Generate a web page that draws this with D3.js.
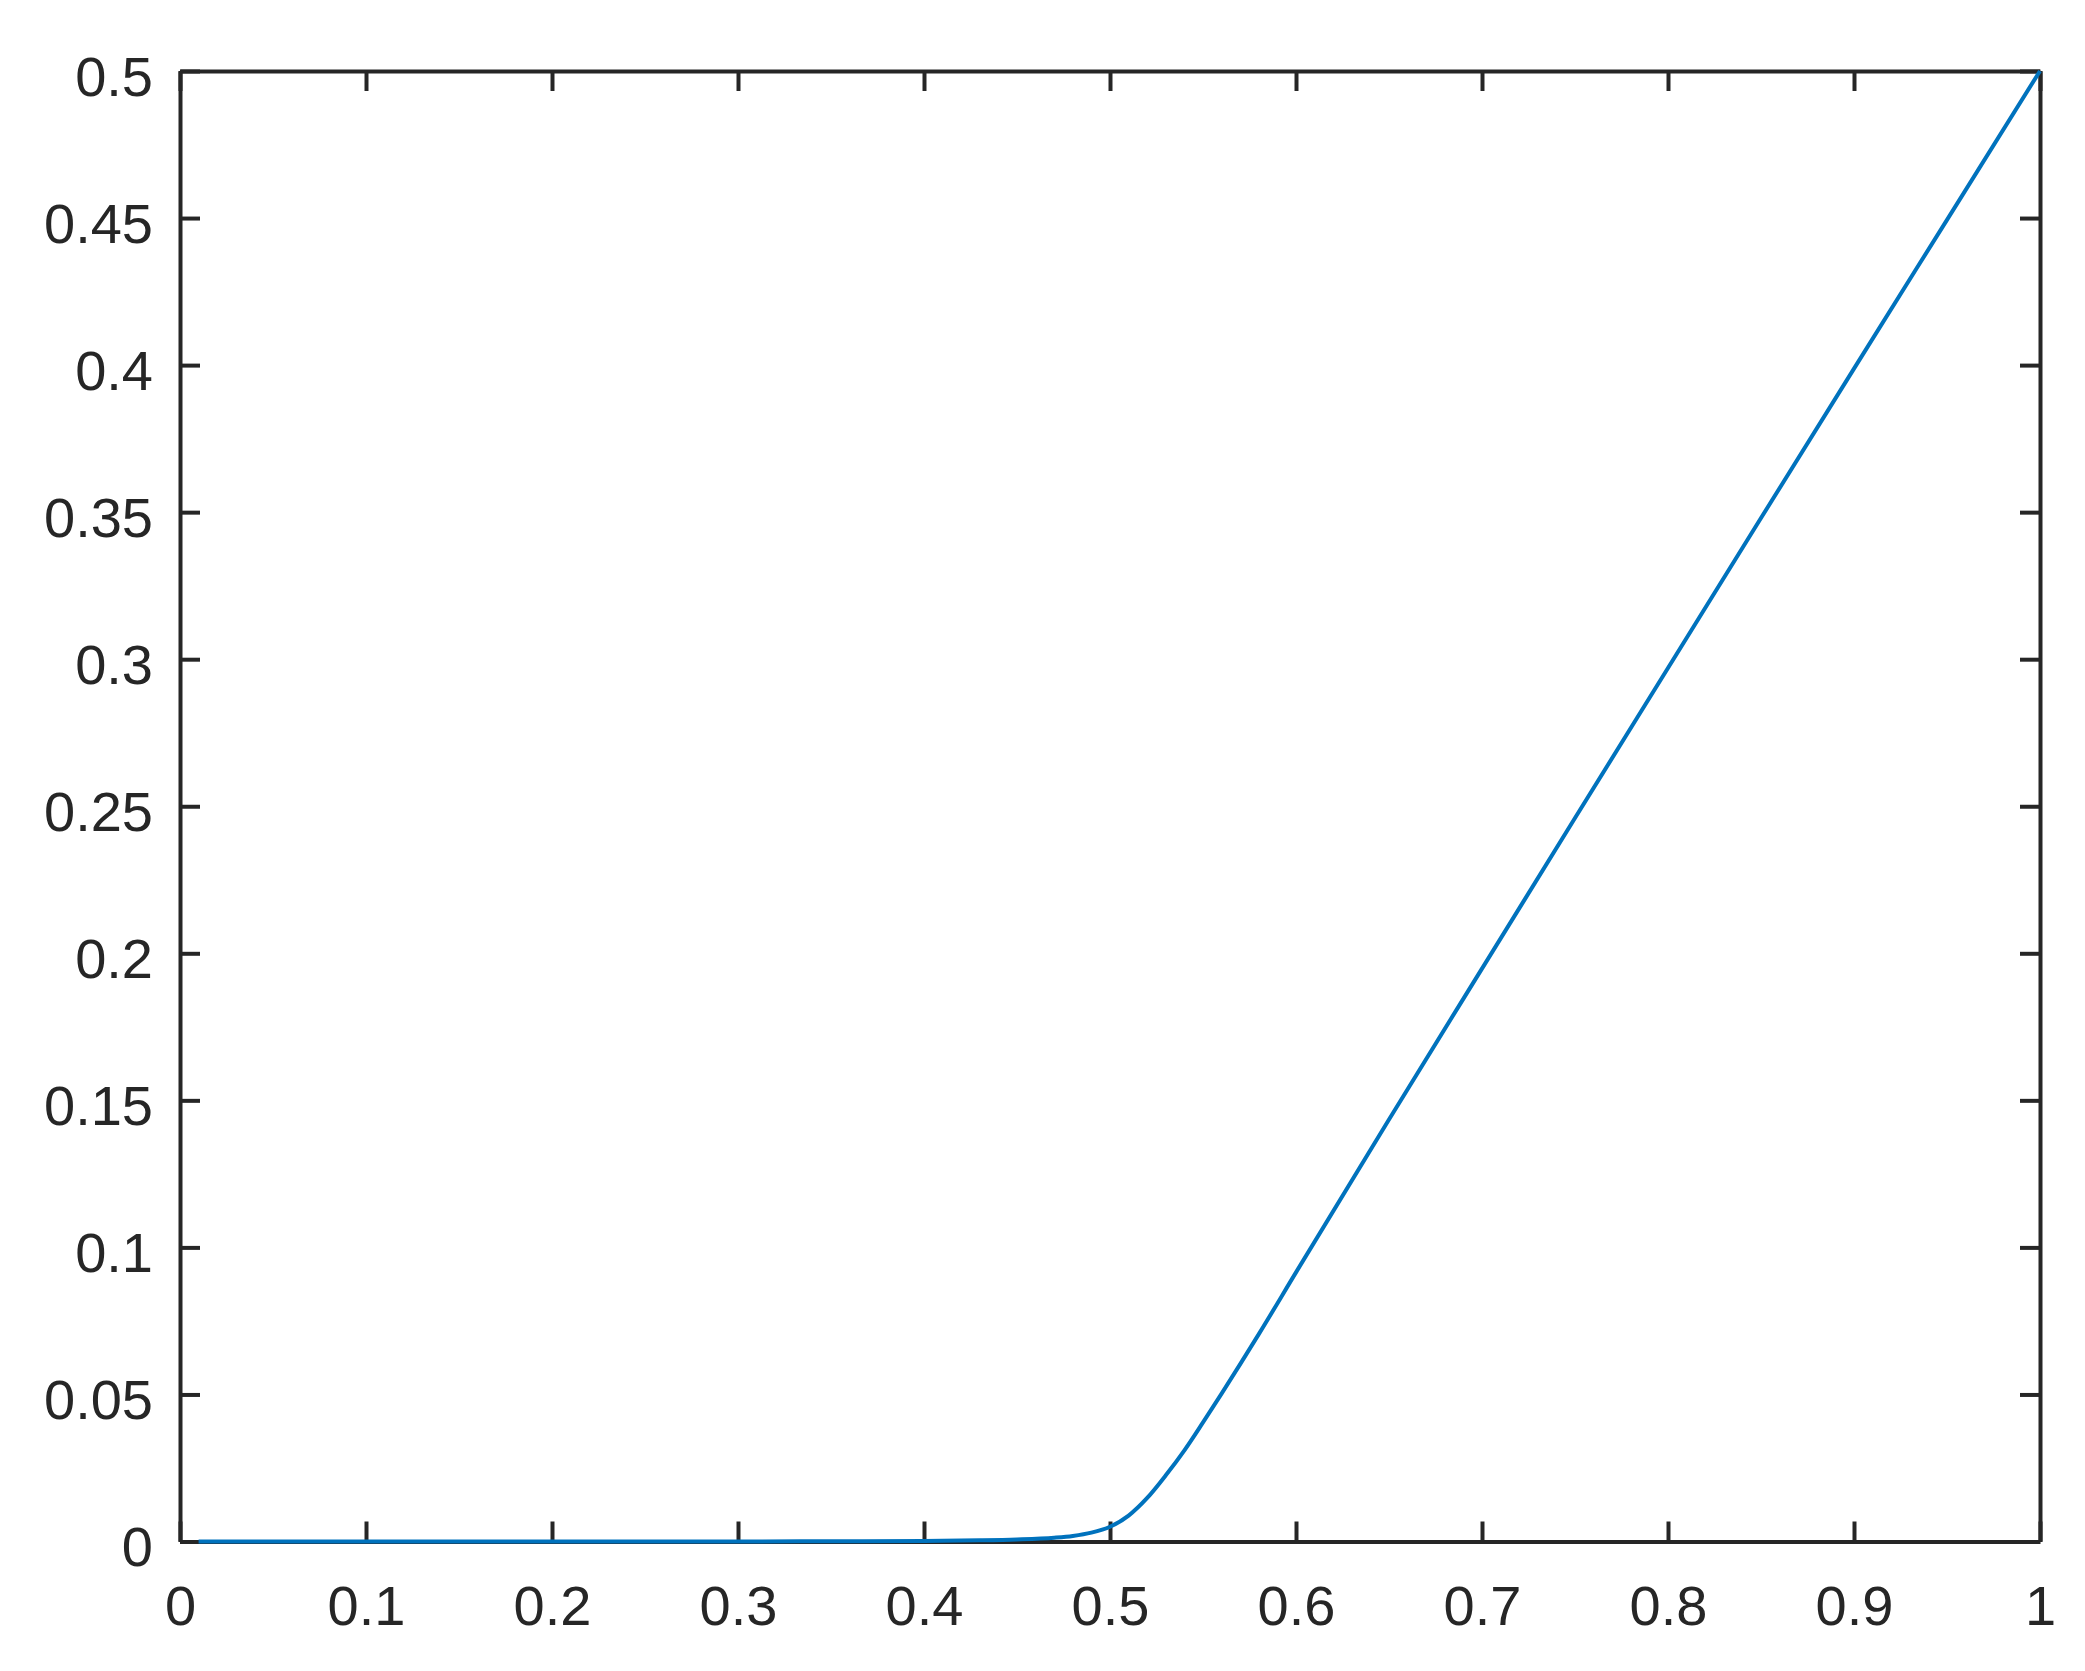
<!DOCTYPE html>
<html>
<head>
<meta charset="utf-8">
<script src="https://cdn.jsdelivr.net/npm/d3@7"></script>
<style>
    body { margin: 0; background: #ffffff; }
    .axis text { font-family: "Liberation Sans", Arial, sans-serif; font-size: 56px; fill: #262626; }
    .axis line, .axis path { stroke: #262626; stroke-width: 4; }
</style>
</head>
<body>
<div id="chart"></div>
<script>
// Values.
const x_values = [0.01, 0.1, 0.2, 0.3, 0.35, 0.4, 0.43, 0.45, 0.47, 0.48, 0.49, 0.5,
    0.51, 0.52, 0.53, 0.54, 0.55, 0.56, 0.58, 0.6, 0.65, 0.7, 0.75,
    0.8, 0.85, 0.9, 0.95, 1.0];
const y_values = [0, 0, 0, 0, 0.0001, 0.0002, 0.0004, 0.0007, 0.0013, 0.0019, 0.003, 0.005,
    0.0088, 0.0148, 0.0225, 0.031, 0.0405, 0.0503, 0.0705, 0.0915, 0.1435, 0.1948, 0.246,
    0.297, 0.348, 0.3988, 0.4494, 0.5];
const x_ticks = [0, 0.1, 0.2, 0.3, 0.4, 0.5, 0.6, 0.7, 0.8, 0.9, 1];
const y_ticks = [0, 0.05, 0.1, 0.15, 0.2, 0.25, 0.3, 0.35, 0.4, 0.45, 0.5];

let data = x_values.map((x, i) => ({ x: x, y: y_values[i] }));

let margin = { top: 71, right: 45, bottom: 129.5, left: 180 },
    width = 2085 - margin.left - margin.right,
    height = 1671 - margin.top - margin.bottom;

var svg = d3.select("#chart")
    .append("svg")
        .attr("width", 2085)
        .attr("height", 1671)
    .append("g")
        .attr("transform", "translate(" + margin.left + "," + margin.top + ")");

var x_scale = d3.scaleLinear().domain([0, 1]).range([0, width]);
var y_scale = d3.scaleLinear().domain([0, 0.5]).range([height, 0]);

let fmt = d => String(+d.toFixed(2));

// Bottom and left axes with labels, ticks pointing inward.
svg.append("g")
    .attr("class", "axis")
    .attr("transform", "translate(0," + height + ")")
    .call(d3.axisBottom(x_scale).tickValues(x_ticks).tickFormat(fmt)
        .tickSizeInner(-20).tickSizeOuter(0).tickPadding(44));

let y_axis = svg.append("g")
    .attr("class", "axis")
    .call(d3.axisLeft(y_scale).tickValues(y_ticks).tickFormat(fmt)
        .tickSizeInner(-20).tickSizeOuter(0).tickPadding(27));
y_axis.selectAll("text").attr("dy", "0.43em");

// Top and right axes, ticks only.
svg.append("g")
    .attr("class", "axis")
    .call(d3.axisTop(x_scale).tickValues(x_ticks).tickFormat("")
        .tickSizeInner(-20).tickSizeOuter(0));
svg.append("g")
    .attr("class", "axis")
    .attr("transform", "translate(" + width + ",0)")
    .call(d3.axisRight(y_scale).tickValues(y_ticks).tickFormat("")
        .tickSizeInner(-20).tickSizeOuter(0));

// The curve.
var line = d3.line()
    .x(d => x_scale(d.x))
    .y(d => y_scale(d.y))
    .curve(d3.curveMonotoneX);
svg.append("path")
    .datum(data)
    .attr("fill", "none")
    .attr("stroke", "#0072BD")
    .attr("stroke-width", 4)
    .attr("d", line);
</script>
</body>
</html>
